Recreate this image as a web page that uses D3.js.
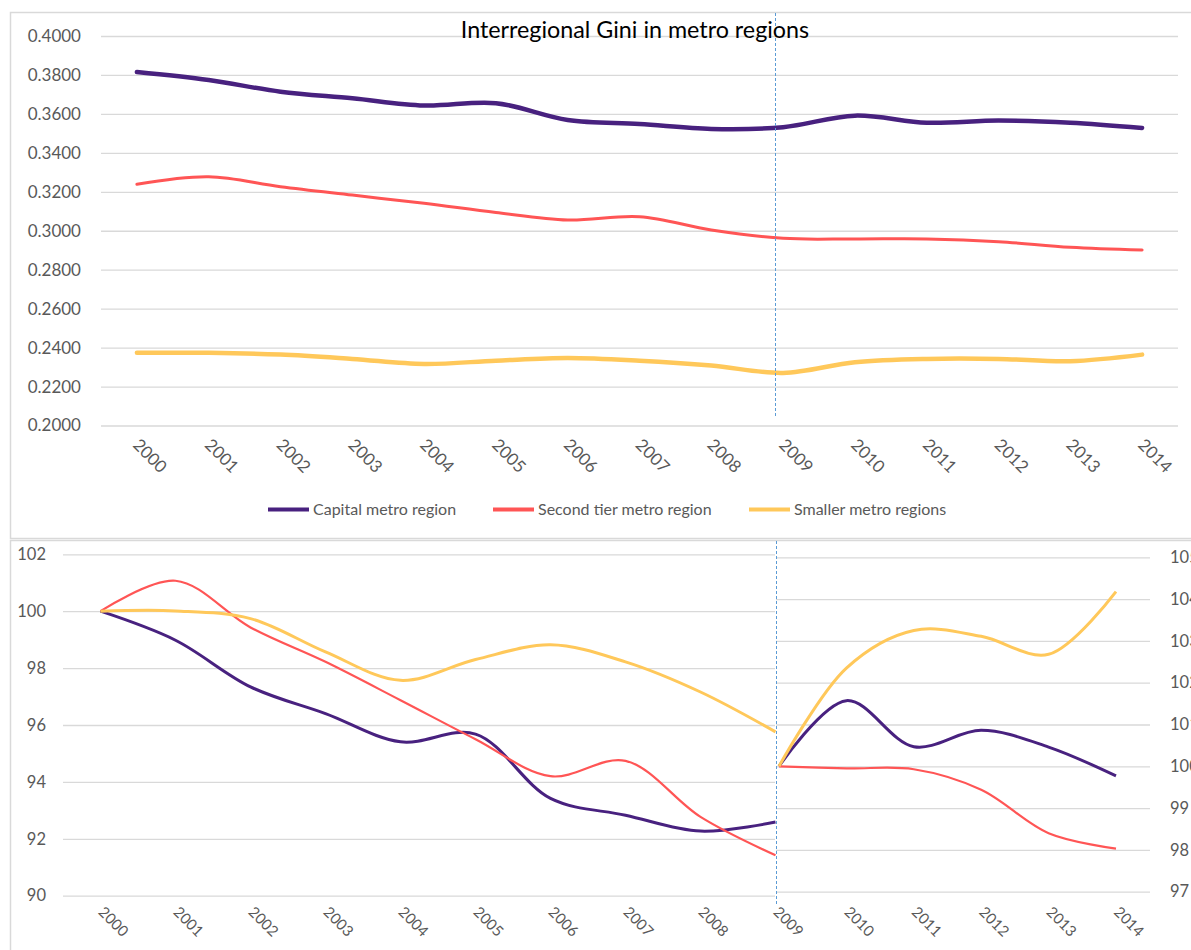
<!DOCTYPE html>
<html><head><meta charset="utf-8">
<script src="https://cdn.jsdelivr.net/npm/d3@7"></script>
<style>
body{margin:0;background:#fff;}
svg text{font-family:Lato,"Open Sans",sans-serif;}
</style></head>
<body><svg id="c" width="1191" height="950"></svg>
<script>
const years = ["2000","2001","2002","2003","2004","2005","2006","2007","2008","2009","2010","2011","2012","2013","2014"];
const yearsA = years.slice(0,10);
const yearsB = years.slice(9);
const seriesNames = ["Capital metro region","Second tier metro region","Smaller metro regions"];
const giniCapital = [0.3815,0.3774,0.3714,0.3680,0.3643,0.3655,0.3569,0.3548,0.3523,0.3532,0.3591,0.3555,0.3566,0.3555,0.3528];
const giniSecond  = [0.3239,0.3277,0.3226,0.3183,0.3141,0.3094,0.3055,0.3072,0.3004,0.2961,0.2958,0.2958,0.2944,0.2915,0.2901];
const giniSmaller = [0.2373,0.2373,0.2364,0.2342,0.2316,0.2333,0.2347,0.2333,0.2308,0.2270,0.2325,0.2342,0.2342,0.2330,0.2364];
const idxCapitalA = [100,98.98,97.34,96.40,95.41,95.68,93.42,92.83,92.27,92.59];
const idxSecondA  = [100,101.07,99.43,98.22,96.87,95.50,94.20,94.74,92.77,91.42];
const idxSmallerA = [100,100.01,99.74,98.57,97.57,98.30,98.82,98.22,97.16,95.76];
const idxCapitalB = [100,101.57,100.47,100.86,100.46,99.77];
const idxSecondB  = [100,99.95,99.93,99.44,98.40,98.03];
const idxSmallerB = [100,102.35,103.25,103.11,102.68,104.18];
const giniTicks = [0.20,0.22,0.24,0.26,0.28,0.30,0.32,0.34,0.36,0.38,0.40];
const leftTicks = [90,92,94,96,98,100,102];
const rightTicks = [97,98,99,100,101,102,103,104,105];
const title = "Interregional Gini in metro regions";

const colors = ["#48217f","#ff5555","#ffc85a"];
const svg = d3.select("#c");
const grid = "#d9d9d9", txt = "#595959";

svg.append("rect").attr("x",10.5).attr("y",12.5).attr("width",1200).attr("height",526).attr("fill","none").attr("stroke",grid).attr("stroke-width",1.5);
svg.append("rect").attr("x",10.5).attr("y",540.5).attr("width",1200).attr("height",450).attr("fill","none").attr("stroke",grid).attr("stroke-width",1.5);

const curve = d3.curveCatmullRom.alpha(0.5);

// ---------- TOP PANEL ----------
const xT = d3.scaleBand().domain(years).range([101,1178]);
const yT = d3.scaleLinear().domain([0.2,0.4]).range([425.5,36]);
const gT = svg.append("g");
gT.append("g").attr("transform","translate(101,0)")
  .call(d3.axisLeft(yT).tickValues(giniTicks).tickSize(-1077).tickFormat(d3.format(".4f")))
  .call(g=>{g.select(".domain").remove();
    g.selectAll("line").attr("stroke",grid).attr("stroke-width",1.3);
    g.selectAll("text").attr("x",-20).attr("fill",txt).style("font-size","17px");});
gT.selectAll(".xl").data(years).join("text")
  .attr("transform",d=>`translate(${xT(d)+xT.bandwidth()/2-5},${446}) rotate(45)`)
  .attr("fill",txt).style("font-size","17px").text(d=>d);
svg.append("line").attr("x1",775.5).attr("x2",775.5).attr("y1",13).attr("y2",416)
  .attr("stroke","#5b9bd5").attr("stroke-width",1).attr("stroke-dasharray","3,2");
const lineT = d3.line().x((d,i)=>xT(years[i])+xT.bandwidth()/2).y(d=>yT(d)).curve(curve);
[[giniCapital,4.5],[giniSecond,3],[giniSmaller,4.5]].forEach(([s,w],k)=>{
  gT.append("path").attr("d",lineT(s)).attr("fill","none").attr("stroke",colors[k]).attr("stroke-width",w).attr("stroke-linecap","round");
});
svg.append("text").attr("x",635).attr("y",38).attr("text-anchor","middle").style("font-size","23.3px").attr("fill","#000").text(title);
const legX = [268,493,749];
seriesNames.forEach((n,k)=>{
  svg.append("line").attr("x1",legX[k]).attr("x2",legX[k]+41).attr("y1",509.5).attr("y2",509.5).attr("stroke",colors[k]).attr("stroke-width",4);
  svg.append("text").attr("x",legX[k]+45).attr("y",515).attr("fill",txt).style("font-size","16px").text(n);
});

// ---------- BOTTOM PANEL ----------
const xA = d3.scaleBand().domain(yearsA).range([63,813]);
const xB = d3.scaleBand().domain(yearsB).range([745.3,1149.7]);
const yA = d3.scaleLinear().domain([90,102]).range([895.7,554.3]);
const yB = d3.scaleLinear().domain([97,105]).range([891.7,557.3]);
const gB = svg.append("g");
gB.append("g").attr("transform","translate(63,0)")
  .call(d3.axisLeft(yA).tickValues(leftTicks).tickSize(-712).tickFormat(d3.format("d")))
  .call(g=>{g.select(".domain").remove();
    g.selectAll("line").attr("stroke",grid).attr("stroke-width",1.3);
    g.selectAll("text").attr("x",-17).attr("fill",txt).style("font-size","16.5px");});
gB.append("g").attr("transform","translate(1150,0)")
  .call(d3.axisRight(yB).tickValues(rightTicks).tickSize(-374).tickFormat(d3.format("d")))
  .call(g=>{g.select(".domain").remove();
    g.selectAll("line").attr("stroke",grid).attr("stroke-width",1.3);
    g.selectAll("text").attr("x",20).attr("fill",txt).style("font-size","16.5px");});
gB.selectAll(".xa").data(yearsA).join("text")
  .attr("transform",d=>`translate(${xA(d)+xA.bandwidth()/2-3},${913}) rotate(45)`)
  .attr("fill",txt).style("font-size","15px").text(d=>d);
gB.selectAll(".xb").data(yearsB.slice(1)).join("text")
  .attr("transform",d=>`translate(${xB(d)+xB.bandwidth()/2-3},${913}) rotate(45)`)
  .attr("fill",txt).style("font-size","15px").text(d=>d);
svg.append("line").attr("x1",776.5).attr("x2",776.5).attr("y1",541).attr("y2",904)
  .attr("stroke","#5b9bd5").attr("stroke-width",1).attr("stroke-dasharray","3,2");
const lineA = d3.line().x((d,i)=>xA(yearsA[i])+xA.bandwidth()/2).y(d=>yA(d)).curve(curve);
const lineB = d3.line().x((d,i)=>xB(yearsB[i])+xB.bandwidth()/2).y(d=>yB(d)).curve(curve);
[[idxCapitalA,idxCapitalB,3],[idxSecondA,idxSecondB,2.2],[idxSmallerA,idxSmallerB,3]].forEach(([a,b,w],k)=>{
  gB.append("path").attr("d",lineA(a)).attr("fill","none").attr("stroke",colors[k]).attr("stroke-width",w);
  gB.append("path").attr("d",lineB(b)).attr("fill","none").attr("stroke",colors[k]).attr("stroke-width",w);
});
</script></body></html>
